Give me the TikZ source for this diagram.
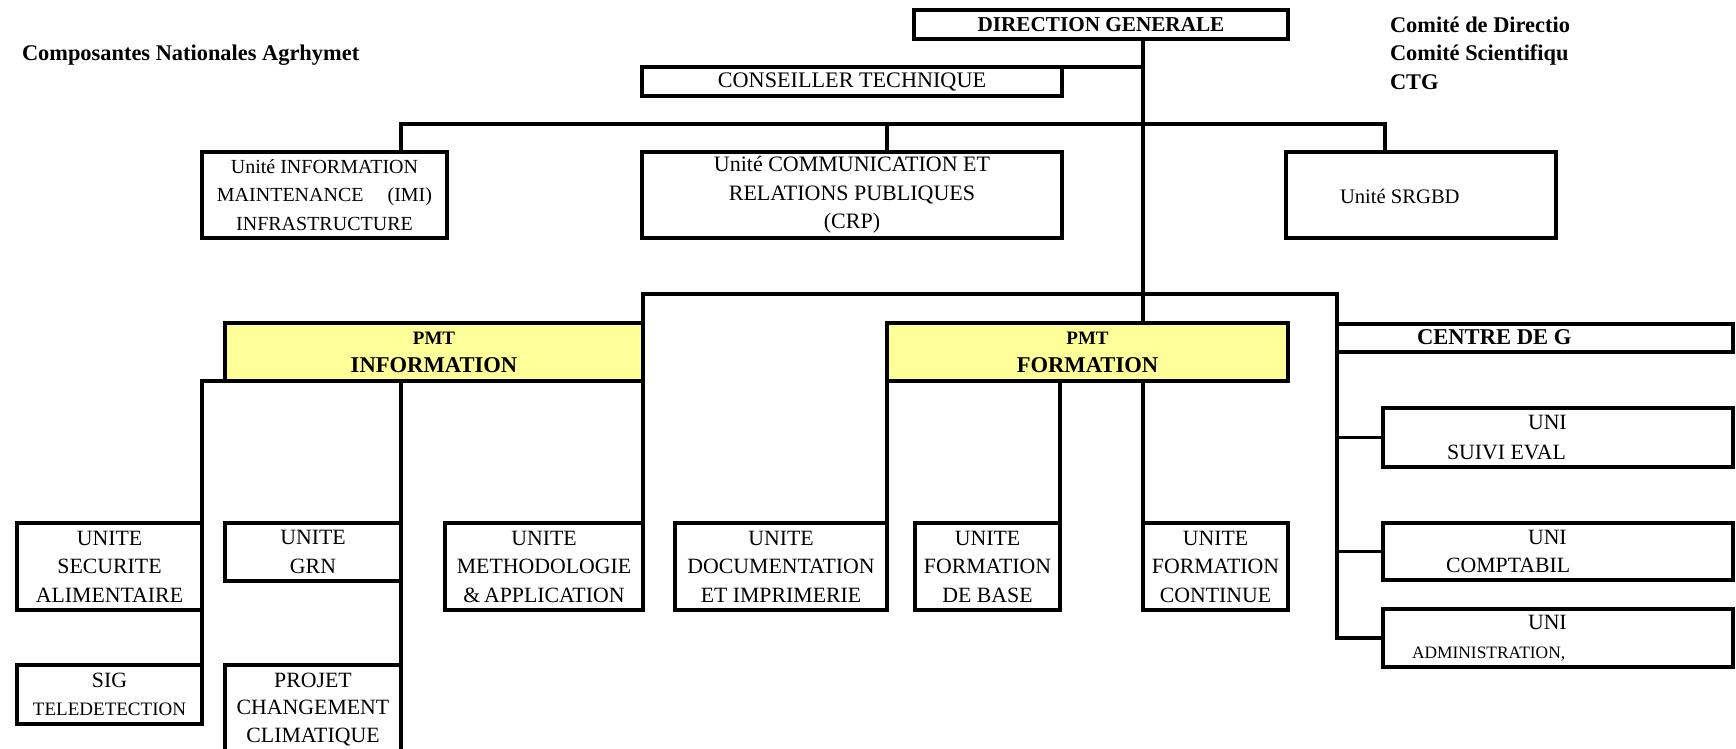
\documentclass[tikz,border=0pt]{standalone}
\usepackage{fontspec}
\setmainfont{Liberation Serif}
\newdimen\pxu \pxu=0.5pt
\definecolor{pmtyellow}{RGB}{255,255,153}
\tikzset{
 box/.style={draw, line width=1.7pt, inner sep=0pt, outer sep=0pt, align=center, font=\fontsize{10.9}{14.25}\selectfont},
 conn/.style={line width=1.7pt, line cap=rect},
 txt/.style={inner sep=0pt, outer sep=0pt, font=\fontsize{10.9}{14.25}\selectfont},
 btxt/.style={inner sep=0pt, outer sep=0pt, font=\fontsize{11.2}{14.25}\selectfont\bfseries},
 pmt/.style={box, fill=pmtyellow, font=\fontsize{11.3}{14}\selectfont\bfseries},
}
\begin{document}
\begin{tikzpicture}[x=0.5pt, y=-0.5pt]
\useasboundingbox (0,0) rectangle (1736,749);

% header texts
\node[btxt, anchor=base west] (title) at (22,61) {Composantes Nationales Agrhymet};
\node[btxt, anchor=base west] (cd) at (1390,32.5) {Comité de Directio};
\node[btxt, anchor=base west] (cs) at (1390,61) {Comité Scientifiqu};
\node[btxt, anchor=base west] (ctg) at (1390,89.5) {CTG};

% top level
\node[box, minimum width=374\pxu, minimum height=29\pxu, font=\fontsize{10.6}{13}\selectfont\bfseries] (dg) at (1101,24.5) {DIRECTION GENERALE};
\node[box, minimum width=420\pxu, minimum height=29\pxu, font=\fontsize{11.1}{14}\selectfont] (ct) at (852,81.5) {CONSEILLER TECHNIQUE};

% units level 1
\node[box, minimum width=245\pxu, minimum height=86\pxu, font=\fontsize{10}{14.25}\selectfont] (imi) at (324.5,195) {Unité INFORMATION\\MAINTENANCE\hspace{12pt}(IMI)\\INFRASTRUCTURE};
\node[box, minimum width=420\pxu, minimum height=86\pxu, font=\fontsize{11}{14.25}\selectfont] (crp) at (852,195) {Unité COMMUNICATION ET\\RELATIONS PUBLIQUES\\(CRP)};
\node[box, minimum width=270\pxu, minimum height=86\pxu] (srgbd) at (1421,195) {};
\node[txt, anchor=base west, font=\fontsize{10.3}{12}\selectfont] (srgbdt) at (1340,204) {Unité SRGBD};

% PMT level
\node[pmt, minimum width=418\pxu, minimum height=58\pxu] (pmti) at (434,352) {{\fontsize{9.5}{14}\selectfont PMT}\\INFORMATION};
\node[pmt, minimum width=401\pxu, minimum height=58\pxu] (pmtf) at (1087.5,352) {{\fontsize{9.5}{14}\selectfont PMT}\\FORMATION};
\node[box, minimum width=396\pxu, minimum height=28\pxu] (cdg) at (1535,338) {};
\node[btxt, anchor=base west, font=\fontsize{11.3}{14}\selectfont\bfseries] (cdgt) at (1417,344.5) {CENTRE DE G};

% unit row
\node[box, minimum width=185\pxu, minimum height=87\pxu] (sec) at (109.5,566.5) {UNITE\\SECURITE\\ALIMENTAIRE};
\node[box, minimum width=176\pxu, minimum height=58\pxu] (grn) at (313,552) {UNITE\\GRN};
\node[box, minimum width=198\pxu, minimum height=87\pxu] (meth) at (544,566.5) {UNITE\\METHODOLOGIE\\\&\,APPLICATION};
\node[box, minimum width=212\pxu, minimum height=87\pxu] (doc) at (781,566.5) {UNITE\\DOCUMENTATION\\ET IMPRIMERIE};
\node[box, minimum width=145\pxu, minimum height=87\pxu] (fb) at (987.5,566.5) {UNITE\\FORMATION\\DE BASE};
\node[box, minimum width=145\pxu, minimum height=87\pxu] (fc) at (1215.5,566.5) {UNITE\\FORMATION\\CONTINUE};

% bottom row
\node[box, minimum width=185\pxu, minimum height=59\pxu] (sig) at (109.5,694.5) {SIG\\{\fontsize{9.5}{14}\selectfont TELEDETECTION}};
\node[box, minimum width=176\pxu, minimum height=130\pxu, anchor=north] (proj) at (313,665) {};
\node[txt, anchor=north, align=center, font=\fontsize{10.9}{13.75}\selectfont] (projt) at (313,673) {PROJET\\CHANGEMENT\\CLIMATIQUE};

% right column
\node[box, minimum width=350\pxu, minimum height=59\pxu] (suivi) at (1558,437.5) {};
\node[box, minimum width=350\pxu, minimum height=57\pxu] (compt) at (1558,551.5) {};
\node[box, minimum width=350\pxu, minimum height=58\pxu] (admin) at (1558,638) {};
\node[txt, anchor=base west] (suivi1) at (1528,429) {UNI};
\node[txt, anchor=base west] (suivi2) at (1447,459) {SUIVI EVAL};
\node[txt, anchor=base west] (compt1) at (1528,544) {UNI};
\node[txt, anchor=base west] (compt2) at (1446,572) {COMPTABIL};
\node[txt, anchor=base west] (admin1) at (1528,629) {UNI};
\node[txt, anchor=base west, font=\fontsize{8.7}{10}\selectfont] (admin2) at (1412,658) {ADMINISTRATION,};

% connectors
\coordinate (b1l) at (401,124);
\coordinate (b1r) at (1385,124);
\coordinate (crpdrop) at (887,124);
\coordinate (b2l) at (643,294);
\coordinate (b2r) at (1337,294);

\draw[conn] (dg.south -| fc.west) -- (pmtf.north -| fc.west);
\draw[conn] (pmtf.south -| fc.west) -- (fc.north west);
\draw[conn] (ct.north east) -- (ct.north east -| fc.west);
\draw[conn] (imi.north -| b1l) -- (b1l) -- (b1r) -- (srgbd.north -| b1r);
\draw[conn] (crpdrop) -- (crp.north -| crpdrop);
\draw[conn] (pmti.north east) -- (b2l) -- (b2r) -- (cdg.north west);
\draw[conn] (cdg.south west) |- (admin.west);
\draw[conn] (suivi.west) -- (suivi.west -| cdg.west);
\draw[conn] (compt.west) -- (compt.west -| cdg.west);
\draw[conn] (pmti.south east) -- (meth.north east);
\draw[conn] (pmti.south west) -| (sig.north east);
\draw[conn] (pmti.south -| grn.east) -- (proj.north east);
\draw[conn] (pmtf.south west) -- (doc.north east);
\draw[conn] (pmtf.south -| fb.east) -- (fb.north east);
\end{tikzpicture}
\end{document}
